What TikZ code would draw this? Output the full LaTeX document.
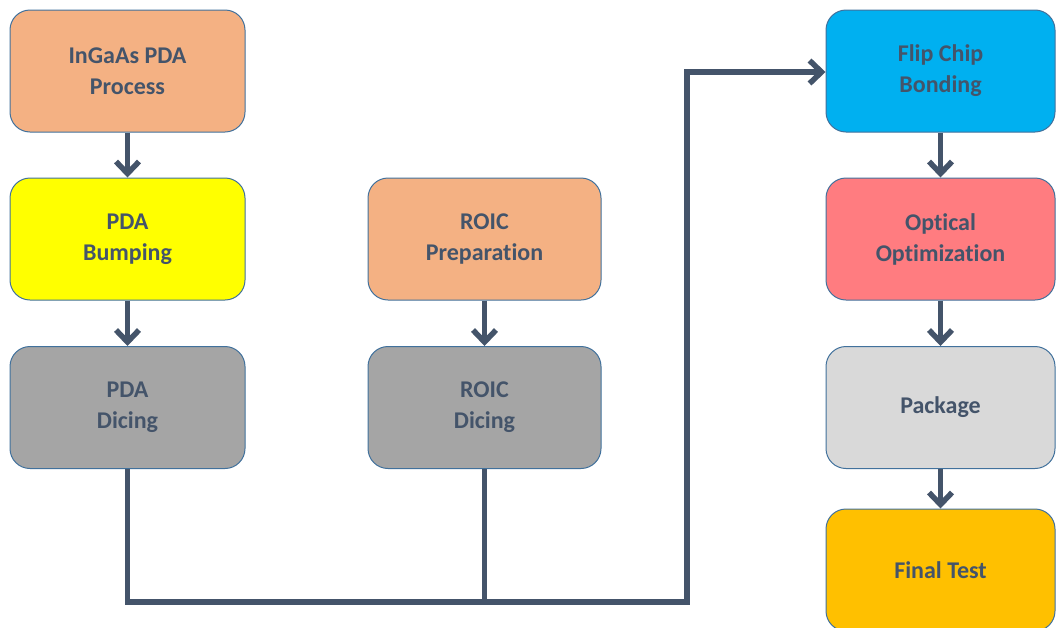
\documentclass[tikz,border=0pt]{standalone}
\usepackage{fontspec}
\setmainfont[Ligatures={NoCommon}]{Carlito}
\usetikzlibrary{arrows.meta}
\definecolor{txt}{HTML}{44546A}
\definecolor{bord}{HTML}{41719C}
\definecolor{corange}{HTML}{F4B183}
\definecolor{cyellow}{HTML}{FFFF00}
\definecolor{cgray}{HTML}{A5A5A5}
\definecolor{cblue}{HTML}{00B0F0}
\definecolor{cred}{HTML}{FF7C80}
\definecolor{clgray}{HTML}{D9D9D9}
\definecolor{cgold}{HTML}{FFC000}
\tikzset{
  box/.style={draw=bord, line width=1pt, rounded corners=20pt, minimum width=#1, minimum height=122pt,
    align=center, text=txt, font=\fontsize{24}{31}\selectfont\bfseries, inner sep=0pt},
  box/.default=235pt,
  flow/.style={draw=txt, line width=5.5pt, -{Straight Barb[length=12pt,width=23pt]}},
  link/.style={draw=txt, line width=5.5pt}
}
\begin{document}
\begin{tikzpicture}[x=1pt,y=-1pt]
\useasboundingbox (0,0) rectangle (1056,627);
\clip (0,0) rectangle (1056,627);
\node[box, fill=corange] (A) at (127.5,71) {InGaAs PDA\\Process};
\node[box, fill=cyellow] (B) at (127.5,239) {PDA\\Bumping};
\node[box, fill=cgray] (C) at (127.5,407.5) {PDA\\Dicing};
\node[box=233pt, fill=corange] (D) at (484.5,239) {ROIC\\Preparation};
\node[box=233pt, fill=cgray] (E) at (484.5,407.5) {ROIC\\Dicing};
\node[box=229pt, fill=cblue] (F) at (940.5,71) {Flip Chip\\Bonding};
\node[box=229pt, fill=cred] (G) at (940.5,239) {Optical\\Optimization};
\node[box=229pt, fill=clgray] (H) at (940.5,407.5) {Package};
\node[box=229pt, fill=cgold] (I) at (940.5,570) {Final Test};
\coordinate (j1) at (127.5,602);
\coordinate (j2) at (484.5,602);
\coordinate (j3) at (687,602);
\coordinate (j4) at (687,72);
\draw[flow] (A) -- (B);
\draw[flow] (B) -- (C);
\draw[flow] (D) -- (E);
\draw[flow] (F) -- (G);
\draw[flow] (G) -- (H);
\draw[flow] (H) -- (I);
\draw[link] (E.south) -- (j2);
\draw[flow, line join=miter] (C.south) -- (j1) -- (j3) -- (j4) -- (F.west |- j4);
\end{tikzpicture}
\end{document}
